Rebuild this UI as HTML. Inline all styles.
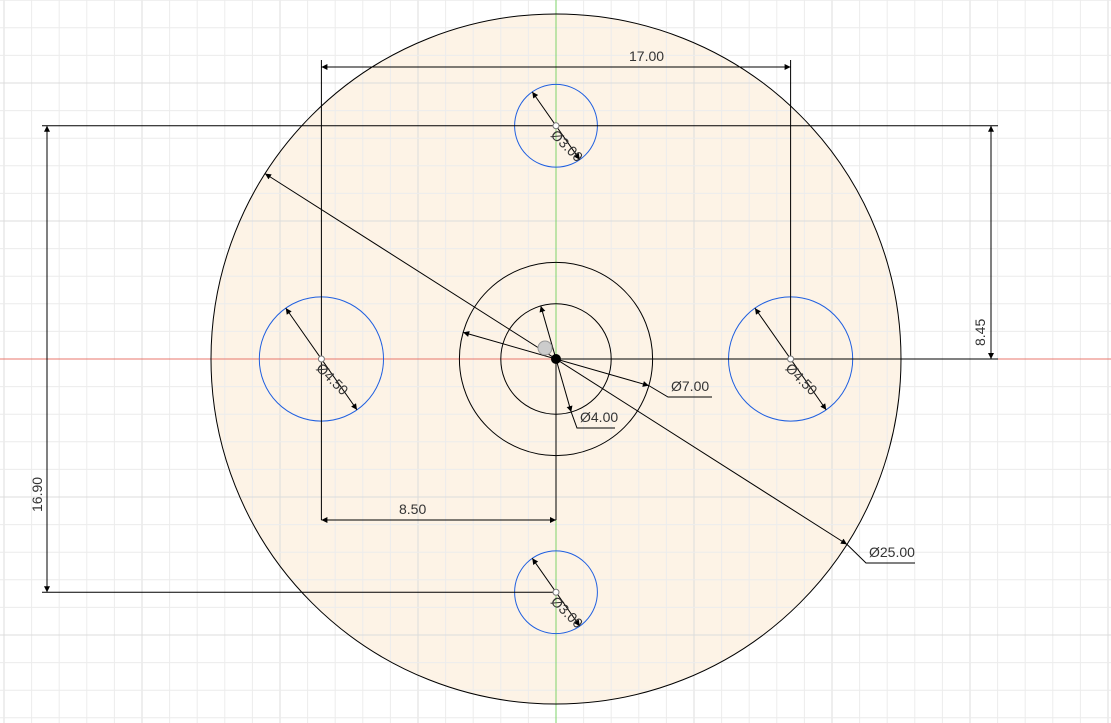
<!DOCTYPE html>
<html><head><meta charset="utf-8"><style>
html,body{margin:0;padding:0;background:#fff;}
svg{display:block;font-family:"Liberation Sans",sans-serif;}
</style></head><body>
<svg id="c" width="1111" height="723" viewBox="0 0 1111 723">
<defs>
<marker id="ar" viewBox="0 0 10 10" refX="10" refY="5" markerWidth="9" markerHeight="6" orient="auto-start-reverse" markerUnits="userSpaceOnUse"><path d="M0,0L10,5L0,10z" fill="#000"/></marker>
</defs>
<circle cx="556" cy="359" r="345" fill="#fdf3e6"/>
<g id="grid"></g>
<line x1="0" y1="359" x2="1111" y2="359" stroke="#e8776c" stroke-width="1"/>
<line x1="556" y1="0" x2="556" y2="723" stroke="#7ed36a" stroke-width="1"/>
<g id="geo" fill="none" stroke="#000" stroke-width="1"></g>
</svg>
<script>
const scale=27.6, cx=556, cy=359;
const holeNames=['top-hole','bottom-hole','left-hole','right-hole'];
const holeX=[0,0,-8.5,8.5];
const holeY=[8.45,-8.45,0,0];
const holeDia=[3,3,4.5,4.5];
const holeLabels=['Ø3.00','Ø3.00','Ø4.50','Ø4.50'];
const ringDia=[25,7,4];
const NS='http://www.w3.org/2000/svg';
const X=u=>cx+u*scale, Y=u=>cy-u*scale;
function mk(p,tag,a){const e=document.createElementNS(NS,tag);for(const k in a)e.setAttribute(k,a[k]);p.appendChild(e);return e;}
const grid=document.getElementById('grid'), geo=document.getElementById('geo'), svg=document.getElementById('c');
for(let i=-21;i<=21;i++){const x=X(i);if(x<0||x>1111)continue;
 const l=mk(grid,'line',{x1:x,y1:0,x2:x,y2:723,stroke:i%5==0?'#dcdcdc':'#ececec','stroke-width':1});
 
 }
for(let j=-14;j<=14;j++){const y=Y(j);if(y<0||y>723)continue;
 const l=mk(grid,'line',{x1:0,y1:y,x2:1111,y2:y,stroke:j%5==0?'#dcdcdc':'#ececec','stroke-width':1});
 
 }
ringDia.forEach((d,i)=>{const c=mk(geo,'circle',{cx:cx,cy:cy,r:d/2*scale});
 
 });
function line(x1,y1,x2,y2,name,arrows){const l=mk(geo,'line',{x1,y1,x2,y2});
 if(arrows){l.setAttribute('marker-end','url(#ar)');if(arrows==2)l.setAttribute('marker-start','url(#ar)');}
 
 return l;}
function text(x,y,s,name,rot){const t=mk(svg,'text',{x,y,'font-size':14,fill:'#333'});t.textContent=s;
 if(rot)t.setAttribute('transform','rotate('+rot+' '+x+' '+y+')');
 
 return t;}
// holes
holeX.forEach((hx,i)=>{const x=X(hx),y=Y(holeY[i]),r=holeDia[i]/2*scale;
 const c=mk(geo,'circle',{cx:x,cy:y,r:r,stroke:'#1f5fe0'});
 
 
 const a=55*Math.PI/180,dx=Math.cos(a)*r,dy=Math.sin(a)*r;
 line(x-dx,y-dy,x+dx,y+dy,holeNames[i]+'-dim',2);
 const p=mk(svg,'circle',{cx:x,cy:y,r:3,fill:'#fff',stroke:'#777'});
 
 
 text(x-6,y+10,holeLabels[i],holeNames[i]+'-label',45);});
// dimensions
const xL=X(-8.5),xR=X(8.5),yT=Y(8.45),yB=Y(-8.45);
line(xL,60,xL,520,'ext-left');line(xR,60,xR,cy,'ext-right');
line(xL,67,xR,67,'dim-17',2);text(629,61,'17.00','dim-17-label');
line(42,yT,998,yT,'ext-top');line(42,yB,cx,yB,'ext-bottom');
line(47,yT,47,yB,'dim-16-90',2);text(42,512,'16.90','dim-16-90-label',-90);
line(cx,cy,998,cy,'ext-center');
line(991,yT,991,cy,'dim-8-45',2);text(985,346,'8.45','dim-8-45-label',-90);
line(cx,cy,cx,520,'ext-center-down');
line(xL,520,cx,520,'dim-8-50',2);text(399,514,'8.50','dim-8-50-label');
// diameter leaders
function dia(d,ang,lx,ly,ux,label,name){const r=d/2*scale,a=ang*Math.PI/180,dx=Math.cos(a)*r,dy=Math.sin(a)*r;
 line(cx-dx,cy-dy,cx+dx,cy+dy,name,2);
 const q=mk(geo,'polyline',{points:(cx+dx)+','+(cy+dy)+' '+lx+','+ly+' '+ux+','+ly});
 
 
 text(lx+3,ly-6,label,name+'-label');}
dia(25,32.5,866,563,915,'Ø25.00','dim-d25');
dia(7,16,668,397,712,'Ø7.00','dim-d7');
dia(4,74,577,428,615,'Ø4.00','dim-d4');
const o=mk(svg,'circle',{cx:545,cy:348,r:7,fill:'#ccc',stroke:'#999'});


const d=mk(svg,'circle',{cx:cx,cy:cy,r:5,fill:'#000'});


</script>
</body></html>
